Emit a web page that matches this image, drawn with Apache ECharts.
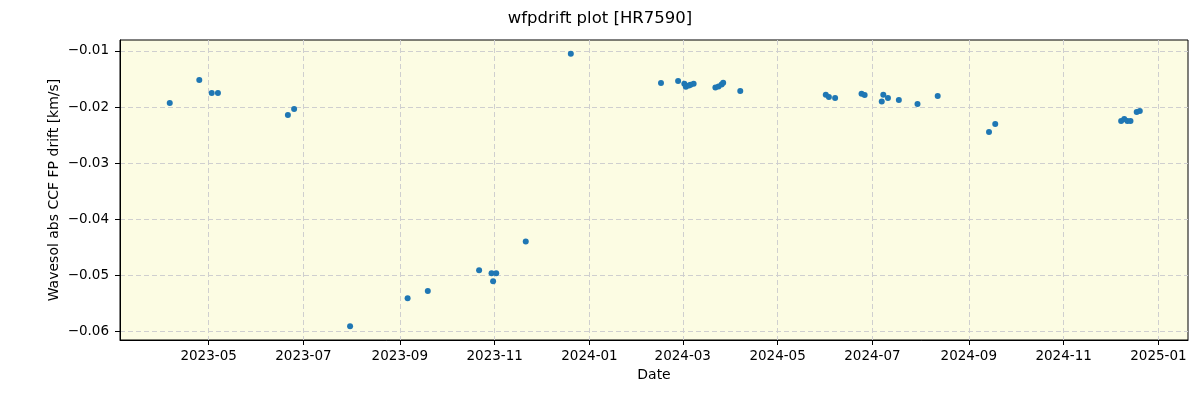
<!DOCTYPE html>
<html>
<head>
<meta charset="utf-8">
<script src="https://cdn.jsdelivr.net/npm/echarts@6/dist/echarts.min.js"></script>
<style>html,body{margin:0;padding:0;background:#fff}#c{width:1200px;height:400px}</style>
</head>
<body>
<div id="c"></div>
<script>
const dates = [
  '2023-04-06','2023-04-25','2023-05-03','2023-05-07','2023-06-21','2023-06-25',
  '2023-07-31','2023-09-06','2023-09-19','2023-10-22','2023-10-30','2023-11-02',
  '2023-10-31','2023-11-21','2023-12-20',
  '2024-02-16','2024-02-27','2024-03-02','2024-03-03','2024-03-05','2024-03-06','2024-03-08',
  '2024-03-22','2024-03-24','2024-03-26','2024-03-27','2024-04-07',
  '2024-06-01','2024-06-03','2024-06-07','2024-06-24','2024-06-26',
  '2024-07-08','2024-07-07','2024-07-11','2024-07-18','2024-07-30','2024-08-12',
  '2024-09-14','2024-09-18',
  '2024-12-08','2024-12-10','2024-12-12','2024-12-14','2024-12-18','2024-12-20'
];
const drift = [
  -0.01929,-0.01518,-0.0175,-0.0175,-0.02143,-0.02036,
  -0.05911,-0.0541,-0.0528,-0.0491,-0.04964,-0.04964,
  -0.05107,-0.0440,-0.01048,
  -0.01571,-0.01536,-0.01584,-0.01638,-0.01614,-0.0160,-0.01584,
  -0.0165,-0.01632,-0.01596,-0.01566,-0.01714,
  -0.0178,-0.01822,-0.0184,-0.01762,-0.01786,
  -0.0178,-0.0190,-0.0184,-0.01875,-0.01946,-0.01804,
  -0.02446,-0.02304,
  -0.0225,-0.02214,-0.0225,-0.0225,-0.0209,-0.0207
];
const xTicks = ['2023-05-01','2023-07-01','2023-09-01','2023-11-01','2024-01-01','2024-03-01',
  '2024-05-01','2024-07-01','2024-09-01','2024-11-01','2025-01-01'];
const yTicks = [-0.06,-0.05,-0.04,-0.03,-0.02,-0.01];
const xRange = ['2023-03-05','2025-01-20'];
const yRange = [-0.06155,-0.00804];

const t = s => Date.parse(s + 'T00:00:00Z');
const pad = n => (n < 10 ? '0' : '') + n;
const fmt = v => { const d = new Date(v); return d.getUTCFullYear() + '-' + pad(d.getUTCMonth() + 1); };
const xTickVals = xTicks.map(t);
const font = 'DejaVu Sans';

const chart = echarts.init(document.getElementById('c'));
chart.setOption({
  animation: false,
  backgroundColor: '#ffffff',
  title: {
    text: 'wfpdrift plot [HR7590]', left: 'center', top: 5,
    textStyle: {fontFamily: font, fontSize: 16.5, fontWeight: 'normal', color: '#000'}
  },
  grid: {left: 120, right: 12, top: 40, bottom: 60, show: true,
    backgroundColor: '#fcfce3', borderColor: '#000', borderWidth: 1},
  xAxis: {
    type: 'value', min: t(xRange[0]), max: t(xRange[1]),
    name: 'Date', nameLocation: 'middle', nameGap: 28, nameMoveOverlap: false,
    nameTextStyle: {fontFamily: font, fontSize: 14, color: '#000'},
    axisLine: {show: true, lineStyle: {color: '#000', width: 1}},
    axisTick: {show: true, inside: false, length: 5, lineStyle: {color: '#000'}, customValues: xTickVals},
    axisLabel: {customValues: xTickVals, formatter: fmt, fontFamily: font, fontSize: 13.5, color: '#000', margin: 9},
    splitLine: {show: true, customValues: xTickVals, lineStyle: {color: '#cfcfcf', type: [5, 3], width: 1}}
  },
  yAxis: {
    type: 'value', min: yRange[0], max: yRange[1],
    name: 'Wavesol abs CCF FP drift [km/s]', nameLocation: 'middle', nameGap: 59, nameMoveOverlap: false,
    nameTextStyle: {fontFamily: font, fontSize: 14, color: '#000'},
    axisLine: {show: true, lineStyle: {color: '#000', width: 1}},
    axisTick: {show: true, inside: false, length: 5, lineStyle: {color: '#000'}, customValues: yTicks},
    axisLabel: {customValues: yTicks, formatter: v => (v < 0 ? '\u2212' : '') + Math.abs(v).toFixed(2),
      fontFamily: font, fontSize: 13.5, color: '#000', margin: 11},
    splitLine: {show: true, customValues: yTicks, lineStyle: {color: '#cfcfcf', type: [5, 3], width: 1}}
  },
  series: [{
    type: 'scatter',
    data: dates.map((d, i) => [t(d), drift[i]]),
    symbolSize: 6,
    itemStyle: {color: '#1f77b4', opacity: 1}
  }]
});
</script>
</body>
</html>
